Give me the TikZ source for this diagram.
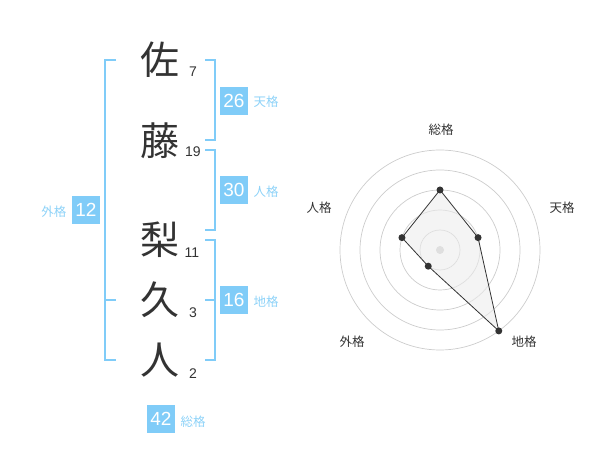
\documentclass[tikz,border=0pt]{standalone}
\usepackage{fontspec}
\usetikzlibrary{calc}
\setmainfont{Liberation Sans}
\newfontfamily\cjk{Noto Sans CJK JP}
\definecolor{boxblue}{HTML}{80CCF8}
\definecolor{lblblue}{HTML}{8DD2F8}
\definecolor{brblue}{HTML}{80CCF8}
\definecolor{txt}{HTML}{333333}
\definecolor{ring}{HTML}{CCCCCC}
\tikzset{
  bline/.style={draw=brblue, line width=1.6pt},
  numbox/.style={fill=boxblue, text=white, minimum width=28pt, minimum height=28pt, inner sep=0pt, font=\fontsize{19}{19}\selectfont},
  lbl/.style={text=lblblue, inner sep=0pt, font=\cjk\fontsize{12.5}{12.5}\selectfont},
  kanji/.style={text=txt, inner sep=0pt, font=\cjk\fontsize{39}{39}\selectfont},
  strokes/.style={text=txt, inner sep=0pt, font=\fontsize{14}{14}\selectfont},
  rlbl/.style={text=txt, inner sep=0pt, font=\cjk\fontsize{12.5}{12.5}\selectfont},
  ringc/.style={draw=ring, line width=0.7pt},
  pt/.style={circle, fill=txt, inner sep=0pt, minimum size=7pt},
}
\begin{document}
\begin{tikzpicture}[x=1pt,y=1pt]
\useasboundingbox (0,0) rectangle (600,-470);
% kanji
\node[kanji] (k1) at (160,-60) {佐};
\node[kanji] (k2) at (160,-141) {藤};
\node[kanji] (k3) at (160,-240) {梨};
\node[kanji] (k4) at (160,-300) {久};
\node[kanji] (k5) at (160,-360) {人};
\node[strokes] (s1) at (193,-72) {7};
\node[strokes] (s2) at (193,-152) {19};
\node[strokes] (s3) at (192,-253) {11};
\node[strokes] (s4) at (193,-313) {3};
\node[strokes] (s5) at (193,-374) {2};
% brackets
\coordinate (L1) at (116,-60); \coordinate (L2) at (105,-60);
\coordinate (L3) at (105,-360); \coordinate (L4) at (116,-360);
\coordinate (L5) at (105,-300); \coordinate (L6) at (116,-300);
\draw[bline] (L1) -- (L2) -- (L3) -- (L4);
\draw[bline] (L5) -- (L6);
\coordinate (T1) at (205,-60); \coordinate (T2) at (215,-60);
\coordinate (T3) at (215,-140); \coordinate (T4) at (205,-140);
\draw[bline] (T1) -- (T2) -- (T3) -- (T4);
\coordinate (J1) at (205,-150); \coordinate (J2) at (215,-150);
\coordinate (J3) at (215,-230); \coordinate (J4) at (205,-230);
\draw[bline] (J1) -- (J2) -- (J3) -- (J4);
\coordinate (C1) at (205,-240); \coordinate (C2) at (215,-240);
\coordinate (C3) at (215,-360); \coordinate (C4) at (205,-360);
\coordinate (C5) at (205,-300); \coordinate (C6) at (215,-300);
\draw[bline] (C1) -- (C2) -- (C3) -- (C4);
\draw[bline] (C5) -- (C6);
% boxes
\node[numbox] (b26) at (234,-101) {26};
\node[lbl] (l26) at (266,-102) {天格};
\node[numbox] (b30) at (234,-190) {30};
\node[lbl] (l30) at (266,-192) {人格};
\node[numbox] (b16) at (234,-300) {16};
\node[lbl] (l16) at (266,-302) {地格};
\node[numbox] (b12) at (86,-210) {12};
\node[lbl] (l12) at (54,-212) {外格};
\node[numbox] (b42) at (161,-419) {42};
\node[lbl] (l42) at (193,-422) {総格};
% radar
\coordinate (O) at (440,-250);
\foreach \r in {20,40,60,80,100} \draw[ringc] (O) circle[radius=\r];
\fill[ring] (O) circle[radius=4];
\coordinate (p1) at ($(O)+(90:60)$);
\coordinate (p2) at ($(O)+(18:40)$);
\coordinate (p3) at ($(O)+(-54:100)$);
\coordinate (p4) at ($(O)+(-126:20)$);
\coordinate (p5) at ($(O)+(162:40)$);
\filldraw[fill=gray!15, fill opacity=0.6, draw=txt, line width=0.8pt] (p1) -- (p2) -- (p3) -- (p4) -- (p5) -- cycle;
\foreach \p in {p1,p2,p3,p4,p5} \node[pt] at (\p) {};
\node[rlbl] (r1) at (441,-130) {総格};
\node[rlbl] (r2) at (562,-208) {天格};
\node[rlbl] (r3) at (524,-342) {地格};
\node[rlbl] (r4) at (352,-342) {外格};
\node[rlbl] (r5) at (319,-208) {人格};
\end{tikzpicture}
\end{document}
